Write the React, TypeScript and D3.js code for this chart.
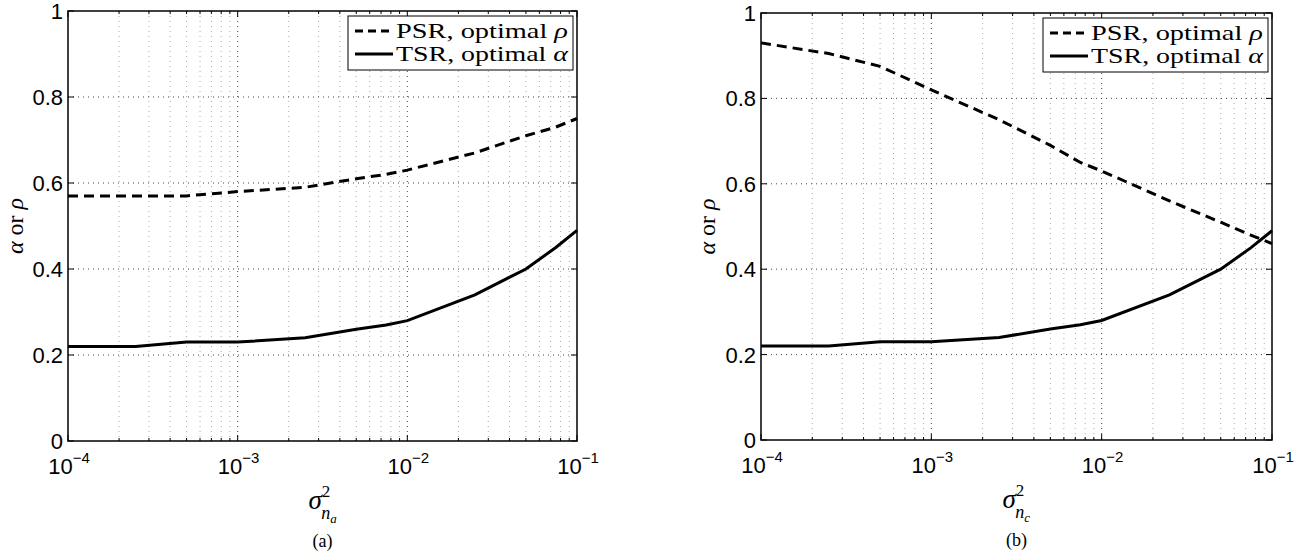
import * as d3 from "d3";
import { useEffect, useRef } from "react";

// noise variance samples (x axis, log scale)
const noiseVar = [1e-4, 2.5e-4, 5e-4, 1e-3, 2.5e-3, 5e-3, 7.5e-3, 1e-2, 2.5e-2, 5e-2, 7.5e-2, 1e-1];

// panel (a): antenna noise
const psrA = [0.57, 0.57, 0.57, 0.58, 0.59, 0.61, 0.62, 0.63, 0.67, 0.71, 0.73, 0.75];
const tsrA = [0.22, 0.22, 0.23, 0.23, 0.24, 0.26, 0.27, 0.28, 0.34, 0.4, 0.45, 0.49];

// panel (b): conversion noise
const psrB = [0.93, 0.905, 0.875, 0.82, 0.75, 0.69, 0.65, 0.63, 0.56, 0.51, 0.48, 0.46];
const tsrB = [0.22, 0.22, 0.23, 0.23, 0.24, 0.26, 0.27, 0.28, 0.34, 0.4, 0.45, 0.49];

const yTicks = [0, 0.2, 0.4, 0.6, 0.8, 1];
const yTickLabels = ["0", "0.2", "0.4", "0.6", "0.8", "1"];
const xTickExps = [-4, -3, -2, -1];
const legendLabels = ["PSR, optimal ", "TSR, optimal "];
const legendGreek = ["ρ", "α"];

const panels = [
  { left: 68, right: 577, top: 11, bottom: 441, psr: psrA, tsr: tsrA, sub: "a", caption: "(a)", ylabX: 23 },
  { left: 761, right: 1272, top: 13, bottom: 440, psr: psrB, tsr: tsrB, sub: "c", caption: "(b)", ylabX: 715 },
];

const W = 1309;
const H = 557;
const sans = "'Liberation Sans', Arial, sans-serif";
const serif = "'Liberation Serif', 'Times New Roman', serif";

const App = () => {
  const svgRef = useRef<SVGSVGElement>(null);

  useEffect(() => {
    const svg = d3.select(svgRef.current);
    svg.selectAll("*").remove();

    panels.forEach((p) => {
      const x = d3.scaleLog().domain([1e-4, 1e-1]).range([p.left, p.right]);
      const y = d3.scaleLinear().domain([0, 1]).range([p.bottom, p.top]);
      const g = svg.append("g");

      // minor x positions
      const minor: number[] = [];
      for (let e = -4; e < -1; e++) {
        for (let k = 2; k <= 9; k++) minor.push(k * Math.pow(10, e));
      }
      const major = xTickExps.map((e) => Math.pow(10, e));

      // grid
      g.selectAll(".gminor")
        .data(minor)
        .join("line")
        .attr("x1", (d) => x(d))
        .attr("x2", (d) => x(d))
        .attr("y1", p.top)
        .attr("y2", p.bottom)
        .attr("stroke", "#aaa")
        .attr("stroke-width", 1)
        .attr("stroke-dasharray", "1,4");
      g.selectAll(".gmajor")
        .data(major.slice(1, -1))
        .join("line")
        .attr("x1", (d) => x(d))
        .attr("x2", (d) => x(d))
        .attr("y1", p.top)
        .attr("y2", p.bottom)
        .attr("stroke", "#444")
        .attr("stroke-width", 1)
        .attr("stroke-dasharray", "1,4");
      g.selectAll(".gy")
        .data(yTicks.slice(1, -1))
        .join("line")
        .attr("x1", p.left)
        .attr("x2", p.right)
        .attr("y1", (d) => y(d))
        .attr("y2", (d) => y(d))
        .attr("stroke", "#444")
        .attr("stroke-width", 1)
        .attr("stroke-dasharray", "1,4");

      // ticks (inside, all four sides)
      const tick = (xs: number[], len: number) => {
        xs.forEach((d) => {
          g.append("line").attr("x1", x(d)).attr("x2", x(d)).attr("y1", p.bottom).attr("y2", p.bottom - len).attr("stroke", "#000");
          g.append("line").attr("x1", x(d)).attr("x2", x(d)).attr("y1", p.top).attr("y2", p.top + len).attr("stroke", "#000");
        });
      };
      tick(minor, 3);
      tick(major, 6);
      yTicks.forEach((d) => {
        g.append("line").attr("x1", p.left).attr("x2", p.left + 6).attr("y1", y(d)).attr("y2", y(d)).attr("stroke", "#000");
        g.append("line").attr("x1", p.right).attr("x2", p.right - 6).attr("y1", y(d)).attr("y2", y(d)).attr("stroke", "#000");
      });

      // curves
      const line = d3
        .line<number>()
        .x((_, i) => x(noiseVar[i]))
        .y((d) => y(d));
      g.append("path")
        .attr("d", line(p.tsr))
        .attr("fill", "none")
        .attr("stroke", "#000")
        .attr("stroke-width", 3);
      g.append("path")
        .attr("d", line(p.psr))
        .attr("fill", "none")
        .attr("stroke", "#000")
        .attr("stroke-width", 3)
        .attr("stroke-dasharray", "10,6");

      // box
      g.append("rect")
        .attr("x", p.left)
        .attr("y", p.top)
        .attr("width", p.right - p.left)
        .attr("height", p.bottom - p.top)
        .attr("fill", "none")
        .attr("stroke", "#000")
        .attr("stroke-width", 1.5);

      // y tick labels
      g.selectAll(".yl")
        .data(yTicks)
        .join("text")
        .attr("x", p.left - 5)
        .attr("y", (d) => y(d) + 8)
        .attr("text-anchor", "end")
        .attr("font-family", sans)
        .attr("font-size", 22)
        .text((_, i) => yTickLabels[i]);

      // x tick labels 10^e
      xTickExps.forEach((e) => {
        const t = g
          .append("text")
          .attr("x", x(Math.pow(10, e)) + 1)
          .attr("y", p.bottom + 33)
          .attr("text-anchor", "middle")
          .attr("font-family", sans)
          .attr("font-size", 22);
        t.append("tspan").text("10");
        t.append("tspan").attr("dy", -11).attr("font-size", 15).text(`\u2212${-e}`);
      });

      // x label sigma^2_{n_a}
      const cx = (p.left + p.right) / 2;
      const xl = g
        .append("text")
        .attr("x", cx - 14)
        .attr("y", p.bottom + 68)
        .attr("font-family", serif)
        .attr("font-size", 27)
        .attr("font-style", "italic");
      xl.append("tspan").text("σ");
      xl.append("tspan").attr("dy", -12).attr("font-size", 17).attr("font-style", "normal").text("2");
      xl.append("tspan").attr("dx", -9).attr("dy", 22).attr("font-size", 18).text("n");
      xl.append("tspan").attr("dy", 4).attr("font-size", 13).text(p.sub);

      // caption
      g.append("text")
        .attr("x", cx)
        .attr("y", p.bottom + 106)
        .attr("text-anchor", "middle")
        .attr("font-family", serif)
        .attr("font-size", 18)
        .text(p.caption);

      // y label
      const yl = g
        .append("text")
        .attr("transform", `translate(${p.ylabX},${(p.top + p.bottom) / 2}) rotate(-90)`)
        .attr("text-anchor", "middle")
        .attr("font-family", serif)
        .attr("font-size", 24);
      yl.append("tspan").attr("font-style", "italic").text("α");
      yl.append("tspan").text(" or ");
      yl.append("tspan").attr("font-style", "italic").text("ρ");

      // legend
      const lx = p.right - 229;
      const ly = p.top + 5;
      const lg = g.append("g");
      lg.append("rect")
        .attr("x", lx)
        .attr("y", ly)
        .attr("width", 225)
        .attr("height", 54)
        .attr("fill", "#fff")
        .attr("stroke", "#000")
        .attr("stroke-width", 1);
      legendLabels.forEach((lab, i) => {
        const yy = ly + 15 + i * 23;
        lg.append("line")
          .attr("x1", lx + 7)
          .attr("x2", lx + 45)
          .attr("y1", yy)
          .attr("y2", yy)
          .attr("stroke", "#000")
          .attr("stroke-width", 3)
          .attr("stroke-dasharray", i === 0 ? "8,5" : null);
        const t = lg
          .append("text")
          .attr("x", lx + 48)
          .attr("y", yy + 7)
          .attr("font-family", serif)
          .attr("font-size", 22)
          .attr("textLength", 172)
          .attr("lengthAdjust", "spacingAndGlyphs");
        t.append("tspan").text(lab);
        t.append("tspan").attr("font-style", "italic").text(legendGreek[i]);
      });
    });
  }, []);

  return (
    <svg
      ref={svgRef}
      width={W}
      height={H}
      style={{ position: "absolute", left: 0, top: 0, background: "#fff" }}
    ></svg>
  );
};

export default App;
